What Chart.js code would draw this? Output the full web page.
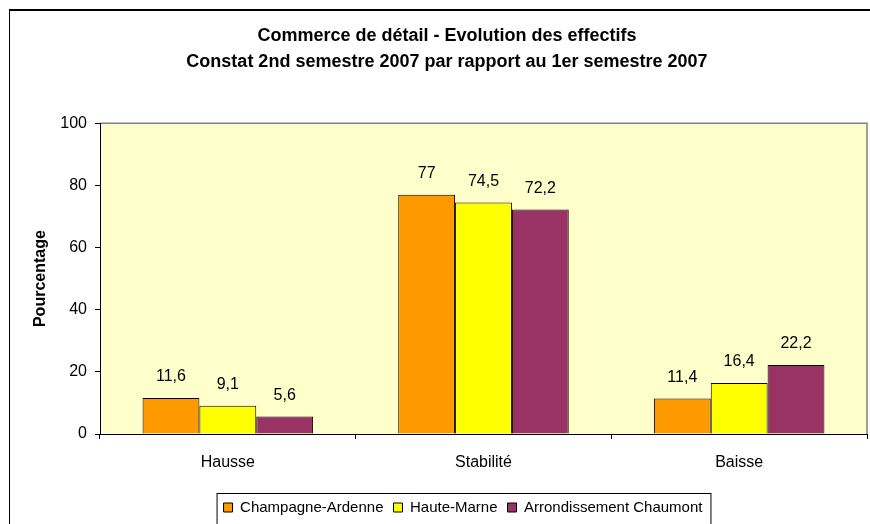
<!DOCTYPE html>
<html>
<head>
<meta charset="utf-8">
<script src="https://cdn.jsdelivr.net/npm/chart.js@4"></script>
<style>
    html, body { margin: 0; padding: 0; background: #fff; overflow: hidden; }
    body { width: 870px; height: 524px; position: relative; }
    #frame { position: absolute; left: 9px; top: 9px; width: 1000px; height: 1000px;
             border-left: 1px solid #000; border-top: 2px solid #000; }
    #chart { position: absolute; left: 9px; top: 9px; }
</style>
</head>
<body>
<div id="frame"></div>
<canvas id="chart" width="876" height="516"></canvas>
<script>
    const categories = ["Hausse", "Stabilité", "Baisse"];
    const seriesNames = ["Champagne-Ardenne", "Haute-Marne", "Arrondissement Chaumont"];
    const champagneArdenne = [11.6, 77, 11.4];
    const hauteMarne = [9.1, 74.5, 16.4];
    const arrondissementChaumont = [5.6, 72.2, 22.2];
    const yTicks = [0, 20, 40, 60, 80, 100];

    const colors = ["#FF9900", "#FFFF00", "#993366"];
    const fontFamily = "'Liberation Sans', Arial, sans-serif";

    Chart.defaults.color = "#000";
    Chart.defaults.font.family = fontFamily;
    Chart.defaults.font.size = 16;

    // Plot area background and border
    const plotBackground = {
        id: "plotBackground",
        afterLayout(chart) {
            // centre the title over the whole frame, nudge the legend right
            chart.titleBlock.right += 18;
            chart.legend.left += 25;
            chart.legend.right += 25;
        },
        beforeDraw(chart) {
            const { ctx, chartArea: a } = chart;
            ctx.save();
            ctx.fillStyle = "#FFFFCC";
            ctx.fillRect(a.left, a.top, a.right - a.left, a.bottom - a.top);
            ctx.strokeStyle = "#808080";
            ctx.lineWidth = 1.5;
            ctx.beginPath();
            ctx.moveTo(a.left, a.top);
            ctx.lineTo(a.right, a.top);
            ctx.lineTo(a.right, a.bottom);
            ctx.stroke();
            ctx.restore();
        }
    };

    // Value labels above the bars
    const valueLabels = {
        id: "valueLabels",
        afterDatasetsDraw(chart) {
            const ctx = chart.ctx;
            ctx.save();
            ctx.font = "16px " + fontFamily;
            ctx.fillStyle = "#000";
            ctx.textAlign = "center";
            ctx.textBaseline = "middle";
            chart.data.datasets.forEach((ds, i) => {
                chart.getDatasetMeta(i).data.forEach((bar, j) => {
                    const label = String(ds.data[j]).replace(".", ",");
                    ctx.fillText(label, bar.x, bar.y - 21);
                });
            });
            ctx.restore();
        }
    };

    // Box around the legend
    const legendBox = {
        id: "legendBox",
        afterDraw(chart) {
            const lg = chart.legend;
            if (!lg || !lg.legendHitBoxes.length) return;
            const first = lg.legendHitBoxes[0];
            const last = lg.legendHitBoxes[lg.legendHitBoxes.length - 1];
            const ctx = chart.ctx;
            ctx.save();
            ctx.strokeStyle = "#000";
            ctx.lineWidth = 1;
            const x0 = first.left - 6.5, x1 = last.left + last.width + 8.5;
            const y0 = first.top - 6.5;
            ctx.strokeRect(x0, y0, x1 - x0, 60);
            ctx.restore();
        }
    };

    const ctx = document.getElementById("chart").getContext("2d");
    new Chart(ctx, {
        type: "bar",
        data: {
            labels: categories,
            datasets: [champagneArdenne, hauteMarne, arrondissementChaumont].map((values, i) => ({
                label: seriesNames[i],
                data: values,
                backgroundColor: colors[i],
                borderColor: "#000",
                borderWidth: 1,
                categoryPercentage: 0.667,
                barPercentage: 1.0
            }))
        },
        options: {
            responsive: false,
            animation: false,
            devicePixelRatio: 1,
            layout: { padding: { left: 0, right: 18, top: 0, bottom: 0 } },
            plugins: {
                title: {
                    display: true,
                    text: [
                        "Commerce de détail - Evolution des effectifs",
                        "Constat 2nd semestre 2007 par rapport au 1er semestre 2007"
                    ],
                    color: "#000",
                    font: { size: 18, weight: "bold", lineHeight: 1.45 },
                    padding: { top: 14, bottom: 48 }
                },
                legend: {
                    position: "bottom",
                    labels: {
                        boxWidth: 9,
                        boxHeight: 9,
                        padding: 10,
                        color: "#000",
                        font: { size: 15 }
                    }
                },
                tooltip: { enabled: false }
            },
            scales: {
                x: {
                    grid: { drawOnChartArea: false, color: "#000", tickLength: 5, offset: true },
                    border: { color: "#000", width: 1 },
                    ticks: { padding: 14, font: { size: 16 } },
                    afterFit(scale) { scale.height = 56; }
                },
                y: {
                    min: 0,
                    max: 100,
                    afterBuildTicks(scale) { scale.ticks = yTicks.map(v => ({ value: v })); },
                    grid: { drawOnChartArea: false, color: "#000", tickLength: 5 },
                    border: { color: "#000", width: 1 },
                    ticks: { padding: 8, font: { size: 16 } },
                    title: {
                        display: true,
                        text: "Pourcentage",
                        font: { size: 16, weight: "bold" },
                        padding: { top: 22, bottom: 0 }
                    },
                    afterFit(scale) { scale.width = 91; }
                }
            }
        },
        plugins: [plotBackground, valueLabels, legendBox]
    });
</script>
</body>
</html>
